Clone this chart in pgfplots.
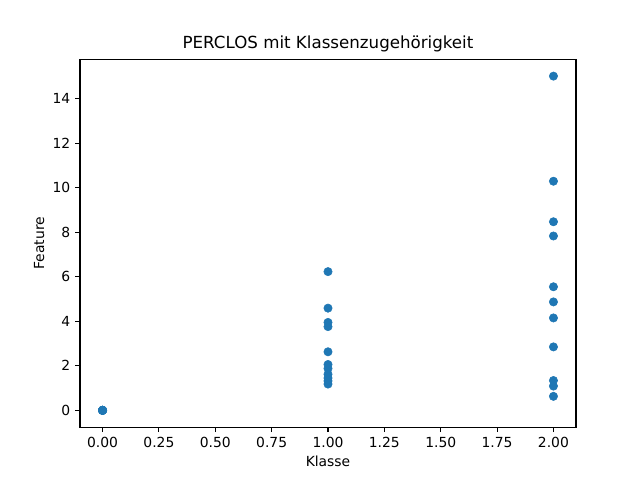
\documentclass[border=0pt]{standalone}
\usepackage{pgfplots}
\pgfplotsset{compat=1.18}
\usepackage{fontspec}
\setmainfont{DejaVu Sans}
\definecolor{mplblue}{HTML}{1F77B4}
\begin{document}
\begin{tikzpicture}
\path[use as bounding box] (-57.6pt,-38.02pt) rectangle (403.2pt,307.58pt);
\begin{axis}[
  at={(0,0)}, anchor=south west,
  scale only axis, width=357.12pt, height=264.96pt,
  xmin=-0.1, xmax=2.1, ymin=-0.756, ymax=15.77,
  xtick={0,0.25,0.5,0.75,1,1.25,1.5,1.75,2},
  xticklabels={0.00,0.25,0.50,0.75,1.00,1.25,1.50,1.75,2.00},
  ytick={0,2,4,6,8,10,12,14},
  tick align=outside, tick pos=left,
  major tick length=3.5pt,
  every tick/.style={black, line width=0.8pt},
  axis line style={line width=0.8pt},
  tick label style={font=\fontsize{10}{12}\selectfont},
  /pgf/number format/assume math mode=true,
  xlabel={Klasse}, ylabel={Feature},
  label style={font=\fontsize{10}{12}\selectfont},
  xlabel style={yshift=1pt},
  ylabel style={yshift=-1pt},
  title={PERCLOS mit Klassenzugehörigkeit},
  title style={font=\fontsize{12}{14}\selectfont, yshift=-4pt},
]
\addplot[only marks, mark=*, mark size=3pt, color=mplblue, mark options={draw=mplblue, fill=mplblue}] coordinates {
(0,0) (0,0) (0,0) (0,0) (0,0) (0,0) (0,0) (0,0) (0,0) (0,0)
(1,6.23) (1,4.59) (1,3.95) (1,3.76) (1,2.63) (1,2.06) (1,1.88) (1,1.62) (1,1.45) (1,1.32) (1,1.18)
(2,15.01) (2,10.29) (2,8.47) (2,7.83) (2,5.55) (2,4.87) (2,4.15) (2,2.85) (2,1.34) (2,1.09) (2,0.63)
};
\end{axis}
\end{tikzpicture}
\end{document}
